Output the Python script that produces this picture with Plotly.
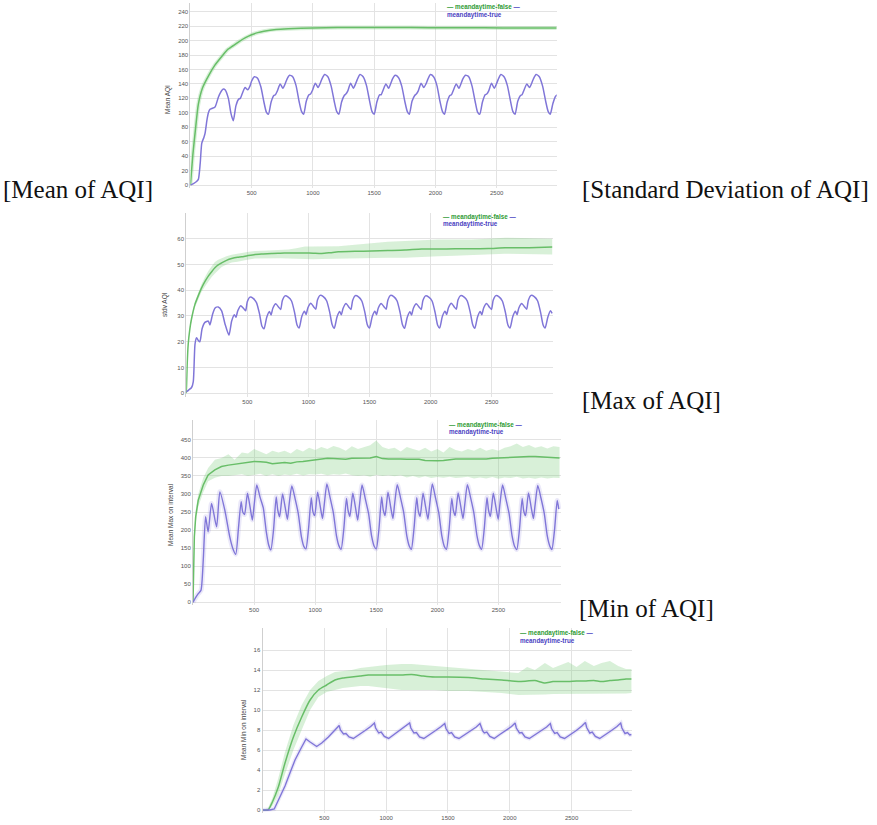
import plotly.graph_objects as go

W, H = 877, 825

# ------------------------------------------------------------------ data
# shared time knots of the daily cycle (blue series, panels 1-3)
XC = [350, 372, 394, 407, 422, 446, 468, 486, 500, 522, 548, 575, 600, 620,
      637, 659, 681, 694, 709, 733, 755, 773, 787, 809, 835, 862, 887, 907,
      924, 946, 968, 981, 996, 1020, 1042, 1060, 1074, 1096, 1122, 1149, 1174, 1194,
      1212, 1234, 1256, 1269, 1284, 1308, 1330, 1348, 1362, 1384, 1410, 1437, 1462, 1482,
      1500, 1522, 1544, 1557, 1572, 1596, 1618, 1636, 1650, 1672, 1698, 1725, 1750, 1770,
      1787, 1809, 1831, 1844, 1859, 1883, 1905, 1923, 1937, 1959, 1985, 2012, 2037, 2057,
      2074, 2096, 2118, 2131, 2146, 2170, 2192, 2210, 2224, 2246, 2272, 2299, 2324, 2344,
      2362, 2384, 2406, 2419, 2434, 2458, 2480, 2498, 2512, 2534, 2560, 2587, 2612, 2632,
      2650, 2672, 2694, 2707, 2722, 2746, 2768, 2786, 2800, 2822, 2848, 2875, 2900, 2920,
      2937, 2959, 2981, 2994]

# ---- Panel 1 : Mean AQI
G1_X = [0, 20, 40, 65, 100, 150, 200, 256, 300, 350, 392, 450, 500, 550, 600, 700,
        800, 1000, 1200, 1500, 1800, 2100, 2400, 2700, 2990]
G1_Y = [0, 42, 75, 112, 135, 152, 166, 178, 187, 193, 198, 204, 208, 211, 213, 215.5,
        216.5, 217.5, 218, 218, 218, 217.8, 217.6, 217.5, 217.5]
B1_XI = [0, 25, 50, 65, 80, 93, 110, 120, 135, 147, 160, 174, 201, 229, 256, 270, 283, 310, 330]
B1_YI = [0, 2, 5, 8, 30, 58, 66, 72, 90, 100, 105, 106, 108, 122, 131, 133, 132, 120, 100]
B1_YC = [89, 110, 119, 120, 126, 135, 132, 137, 144, 150, 148, 136, 115, 101,
         98, 115, 124, 125, 130, 140, 134, 140, 146, 152, 150, 138, 116, 102,
         98, 116, 125, 126, 131, 141, 135, 141, 147, 153, 150, 137, 116, 102,
         98, 115, 124, 126, 130, 141, 134, 140, 146, 153, 150, 138, 117, 102,
         98, 115, 125, 125, 131, 140, 134, 141, 147, 152, 149, 137, 116, 102,
         98, 116, 124, 126, 130, 141, 135, 140, 146, 153, 150, 138, 116, 102,
         98, 115, 124, 125, 131, 140, 134, 141, 147, 152, 150, 137, 116, 101,
         98, 115, 125, 126, 130, 141, 134, 140, 146, 153, 150, 138, 117, 102,
         98, 116, 124, 125, 131, 140, 135, 141, 147, 153, 150, 137, 116, 102,
         98, 113, 123, 125]

# ---- Panel 2 : stdv AQI
G2_X = [0, 3, 8, 16, 30, 44, 71, 100, 126, 155,
        181, 210, 235, 262, 290, 330, 372, 420, 454, 500,
        563, 630, 699, 770, 836, 900, 972, 1040, 1109, 1180,
        1245, 1380, 1518, 1650, 1791, 1927, 2064, 2200, 2337, 2473,
        2609, 2746, 2870, 2995]
G2_Y = [0, 3, 11, 18.8, 25, 29, 34.4, 38, 40.9, 43.5,
        45.5, 47.3, 48.7, 49.8, 50.6, 51.6, 52.3, 52.8, 53, 53.4,
        53.9, 54.1, 54.3, 54.4, 54.5, 54.5, 54.5, 54.4, 54.3, 54.6,
        54.9, 55.1, 55.2, 55.4, 55.6, 56, 56.0, 56.1, 56.1, 56.2,
        56.5, 56.5, 56.6, 56.8]
G2_UP = [0, 3.3, 11.5, 19.5, 25.8, 30, 35.5, 39.3, 42.4, 45.2,
         47.5, 49.4, 51, 51.8, 52.4, 53.2, 53.8, 54.3, 54.5, 54.8,
         55.2, 55.3, 55.5, 55.6, 55.8, 56.3, 57.0, 57.0, 57.0, 57.0,
         57.1, 57.7, 58.4, 58.8, 59.1, 59.4, 59.7, 59.7, 59.7, 60.0,
         60.4, 60.3, 60.2, 60.0]
G2_LO = [0, 2.7, 10.5, 18, 24.2, 28, 33.3, 36.7, 39.4, 41.5,
         43.5, 45.2, 46.5, 47.8, 49.0, 50, 50.8, 51.1, 51.3, 51.8,
         52.3, 52.4, 52.4, 52.4, 52.3, 52.2, 52.0, 52.0, 52.1, 52.2,
         52.3, 52.5, 52.6, 52.6, 52.6, 53.0, 53.2, 53.4, 53.6, 53.8,
         54.2, 54.1, 54.0, 53.9]
B2_XI = [0, 20, 44, 58, 72, 85, 99, 112, 130, 153, 181, 194, 215, 235, 262, 290, 317]
B2_YI = [0.5, 1.2, 2.2, 4.5, 19, 21.5, 20.5, 20, 25, 27.5, 28, 26.5, 30.5, 33, 33.5, 32, 27]
B2_YC = [22.5, 28, 30.5, 29.5, 32, 34, 33, 32, 35.5, 37.3, 36.8, 35.2, 30.8, 26,
         25, 29.5, 31.7, 30.4, 33, 34.7, 33.5, 32.5, 36, 37.8, 37.3, 35.8, 31.3, 26.5,
         25.3, 29.8, 31.8, 30.6, 33.2, 34.9, 33.6, 32.6, 36.2, 38, 37.5, 35.9, 31.5, 26.7,
         25.2, 29.6, 31.7, 30.5, 33, 34.8, 33.5, 32.5, 36, 37.9, 37.4, 35.8, 31.4, 26.6,
         25.3, 29.7, 31.8, 30.5, 33.1, 34.8, 33.6, 32.6, 36.1, 38, 37.5, 35.9, 31.4, 26.6,
         25.2, 29.5, 31.6, 30.4, 33, 34.7, 33.5, 32.5, 36, 37.8, 37.3, 35.8, 31.3, 26.5,
         25.3, 29.8, 31.8, 30.6, 33.2, 34.9, 33.6, 32.6, 36.2, 37.9, 37.4, 35.9, 31.5, 26.7,
         25.2, 29.6, 31.7, 30.5, 33.1, 34.8, 33.5, 32.5, 36.1, 37.9, 37.4, 35.8, 31.4, 26.6,
         25.3, 29.7, 31.8, 30.5, 33.1, 34.8, 33.6, 32.6, 36.1, 38, 37.5, 35.9, 31.4, 26.6,
         25.3, 29.5, 32, 31]

# ---- Panel 3 : Mean Max on interval
G3_X = [0, 5, 11, 22, 43, 84, 124, 179, 233, 290, 340,
        400, 450, 500, 550, 600, 650, 700, 750, 800, 850,
        900, 950, 1000, 1050, 1100, 1150, 1200, 1250, 1300, 1350,
        1400, 1450, 1500, 1550, 1600, 1650, 1700, 1750, 1800, 1850,
        1900, 1950, 2000, 2050, 2100, 2150, 2200, 2250, 2300, 2350,
        2400, 2450, 2500, 2550, 2600, 2650, 2700, 2750, 2800, 2850,
        2900, 2950, 3000]
G3_Y = [0, 100, 181, 237, 283, 325, 353, 367, 376, 380, 382,
        384, 386, 390, 389, 388, 384, 386, 387, 385, 389,
        390, 392, 395, 398, 399, 398, 397, 396, 399, 400,
        399, 400, 404, 398, 397, 398, 397, 396, 397, 396,
        393, 392, 392, 393, 396, 397, 397, 397, 398, 396,
        397, 399, 400, 401, 403, 404, 405, 404, 404, 403,
        402, 401, 400]
G3_UP = [0, 110, 200, 255, 300, 345, 372, 395, 400, 410, 395,
         415, 412, 425, 418, 410, 420, 415, 420, 412, 425,
         418, 428, 422, 430, 425, 433, 428, 420, 432, 425,
         430, 435, 448, 430, 425, 428, 418, 430, 425, 420,
         428, 418, 425, 415, 430, 422, 418, 425, 420, 428,
         420, 425, 420, 428, 432, 440, 430, 436, 428, 432,
         426, 432, 430]
G3_LO = [0, 90, 165, 220, 265, 305, 335, 345, 350, 350, 352,
         355, 350, 352, 356, 350, 355, 350, 354, 352, 356,
         351, 355, 354, 356, 352, 355, 353, 357, 352, 350,
         352, 348, 353, 350, 352, 349, 352, 346, 350, 345,
         349, 344, 347, 345, 348, 344, 346, 348, 343, 346,
         343, 347, 342, 346, 344, 348, 343, 345, 342, 346,
         343, 345, 344]
B3_XI = [0, 20, 43, 65, 84, 103, 124, 152, 193, 220, 260, 301, 325]
B3_YI = [0, 12, 24, 33, 117, 237, 195, 274, 209, 306, 256, 181, 150]
B3_YC = [133, 205, 279, 250, 243, 302, 262, 228, 268, 325, 292, 262, 195, 158,
         145, 200, 292, 255, 237, 300, 262, 230, 272, 322, 288, 245, 182, 155,
         148, 205, 290, 252, 240, 305, 265, 232, 270, 328, 290, 248, 185, 157,
         147, 202, 288, 255, 238, 302, 262, 228, 268, 325, 287, 246, 183, 156,
         148, 203, 292, 256, 240, 305, 264, 232, 272, 326, 290, 248, 184, 156,
         147, 205, 290, 253, 238, 302, 262, 230, 270, 328, 289, 247, 183, 155,
         147, 202, 288, 255, 240, 303, 265, 232, 270, 326, 290, 247, 185, 157,
         147, 204, 290, 255, 238, 302, 262, 230, 272, 325, 288, 246, 183, 155,
         146, 202, 288, 253, 240, 303, 263, 232, 270, 324, 289, 246, 183, 156,
         146, 200, 282, 258]

# ---- Panel 4 : Mean Min on interval
G4_X = [0, 45, 80, 128, 182, 250, 317, 385, 452, 519, 586, 650, 721, 790, 856,
        1000, 1125, 1206, 1300, 1395, 1500, 1664, 1800, 1934, 2069, 2140, 2203,
        2284, 2350, 2473, 2540, 2607, 2680, 2742, 2810, 2877, 2940, 2985]
G4_Y = [0, 0, 0.8, 2.3, 4.7, 7.3, 9.3, 11, 12, 12.5, 13, 13.2, 13.3, 13.4, 13.5,
        13.5, 13.5, 13.55, 13.4, 13.3, 13.3, 13.25, 13.1, 13.0, 12.85, 12.9, 12.95,
        12.7, 12.85, 12.85, 12.9, 12.9, 12.95, 12.85, 12.95, 13.0, 13.1, 13.1]
G4_UP = [0, 0.2, 1.2, 3.2, 5.8, 8.5, 10.5, 12.0, 12.9, 13.4, 13.8, 13.9, 14.0, 14.2, 14.3,
         14.5, 14.6, 14.6, 14.5, 14.4, 14.3, 14.1, 14.0, 13.8, 13.7, 14.3, 14.0,
         14.7, 14.2, 14.8, 14.3, 14.9, 14.4, 14.7, 14.9, 14.4, 14.1, 14.1]
G4_LO = [0, 0, 0.4, 1.5, 3.6, 6.0, 8.0, 10.0, 11.3, 11.8, 12.0, 12.2, 12.3, 12.4, 12.4,
         12.2, 12.0, 12.0, 12.0, 12.0, 11.9, 11.9, 11.8, 11.7, 11.5, 11.5, 11.5,
         11.55, 11.6, 11.6, 11.6, 11.6, 11.6, 11.6, 11.6, 11.6, 11.65, 11.7]
B4_X = [0, 60, 95, 128, 155, 182, 222, 263, 317, 340, 352, 385, 415, 438, 479, 533, 586,
        620, 630, 642, 655, 675, 700, 735, 780, 830, 875,
        905, 915, 927, 940, 960, 985, 1020, 1065, 1115, 1160,
        1190, 1200, 1212, 1225, 1245, 1270, 1305, 1350, 1400, 1445,
        1474, 1484, 1496, 1509, 1529, 1554, 1589, 1634, 1684, 1729,
        1759, 1769, 1781, 1794, 1814, 1839, 1874, 1919, 1969, 2014,
        2043, 2053, 2065, 2078, 2098, 2123, 2158, 2203, 2253, 2298,
        2328, 2338, 2350, 2363, 2383, 2408, 2443, 2488, 2538, 2583,
        2612, 2622, 2634, 2647, 2667, 2692, 2727, 2772, 2822, 2867,
        2897, 2907, 2919, 2932, 2952, 2970, 2985]
B4_Y = [0, 0, 0.1, 1.0, 1.7, 2.4, 3.7, 5.0, 6.3, 6.9, 7.1, 6.8, 6.5, 6.35, 6.7, 7.3, 8.0,
        8.45, 8.0, 7.75, 7.6, 7.65, 7.3, 7.15, 7.5, 7.95, 8.35,
        8.7, 8.2, 7.9, 7.7, 7.8, 7.35, 7.15, 7.55, 7.95, 8.35,
        8.7, 8.2, 7.9, 7.7, 7.75, 7.3, 7.15, 7.5, 7.95, 8.35,
        8.65, 8.15, 7.9, 7.65, 7.75, 7.3, 7.15, 7.5, 7.95, 8.3,
        8.65, 8.2, 7.9, 7.7, 7.8, 7.35, 7.15, 7.55, 7.95, 8.35,
        8.7, 8.2, 7.95, 7.7, 7.75, 7.3, 7.15, 7.5, 7.95, 8.3,
        8.65, 8.15, 7.9, 7.65, 7.75, 7.3, 7.15, 7.5, 7.95, 8.4,
        8.75, 8.25, 7.95, 7.7, 7.8, 7.35, 7.15, 7.5, 7.95, 8.35,
        8.7, 8.2, 7.9, 7.65, 7.75, 7.5, 7.55]

X_TICKS = [500, 1000, 1500, 2000, 2500]
Y1_TICKS = [0, 20, 40, 60, 80, 100, 120, 140, 160, 180, 200, 220, 240]
Y2_TICKS = [0, 10, 20, 30, 40, 50, 60]
Y3_TICKS = [0, 50, 100, 150, 200, 250, 300, 350, 400, 450]
Y4_TICKS = [0, 2, 4, 6, 8, 10, 12, 14, 16]

Y_TITLES = ["Mean AQI", "stdv AQI", "Mean Max on interval", "Mean Min on interval"]
CAPTIONS = ["[Mean of AQI]", "[Standard Deviation of AQI]", "[Max of AQI]", "[Min of AQI]"]
LEG_FALSE = "meandaytime-false"
LEG_TRUE = "meandaytime-true"

# ------------------------------------------------------------------ style
GREEN = "rgb(104,190,104)"
GREEN_BAND = "rgba(126,204,126,0.30)"
BLUE = "rgb(128,118,216)"
BLUE_GLOW = "rgba(128,118,216,0.16)"
LEG_GREEN = "#2f9b35"
LEG_BLUE = "#4b3fc2"
GRID = "#e3e3e3"
TICKFONT = dict(family="Liberation Sans", size=6, color="#555")

# panel geometry in pixels: (left, right, top, bottom), x range, y range
PANELS = [
    dict(px=(190.4, 556.7, 3, 188), xr=[0, 2990], yr=[-4, 252], yt=Y1_TICKS),
    dict(px=(186.2, 553.3, 213, 397), xr=[0, 3004], yr=[-1.5, 70], yt=Y2_TICKS),
    dict(px=(193.0, 561.0, 420, 605), xr=[0, 3012], yr=[-7.5, 505], yt=Y3_TICKS),
    dict(px=(262.5, 631.7, 628, 812.7), xr=[0, 2986], yr=[-0.27, 18.2], yt=Y4_TICKS),
]

fig = go.Figure()


def ax(i):
    return ("x" if i == 1 else f"x{i}"), ("y" if i == 1 else f"y{i}")


def band(i, x, up, lo):
    xa, ya = ax(i)
    fig.add_trace(go.Scatter(x=x, y=up, mode="lines", line=dict(width=0, color=GREEN_BAND),
                             xaxis=xa, yaxis=ya, showlegend=False, hoverinfo="skip"))
    fig.add_trace(go.Scatter(x=x, y=lo, mode="lines", line=dict(width=0, color=GREEN_BAND),
                             fill="tonexty", fillcolor=GREEN_BAND,
                             xaxis=xa, yaxis=ya, showlegend=False, hoverinfo="skip"))


def line(i, x, y, color, width, shape="spline", name=None):
    xa, ya = ax(i)
    fig.add_trace(go.Scatter(x=x, y=y, mode="lines",
                             line=dict(color=color, width=width, shape=shape,
                                       smoothing=0.6 if shape == "spline" else None),
                             xaxis=xa, yaxis=ya, showlegend=False, name=name))


# panel 1
line(1, G1_X, G1_Y, GREEN_BAND, 4)
line(1, G1_X, G1_Y, GREEN, 1.5, name=LEG_FALSE)
line(1, B1_XI + XC, B1_YI + B1_YC, BLUE, 1.5, name=LEG_TRUE)
# panel 2
band(2, G2_X, G2_UP, G2_LO)
line(2, G2_X, G2_Y, GREEN, 1.5, name=LEG_FALSE)
line(2, B2_XI + XC, B2_YI + B2_YC, BLUE, 1.5, name=LEG_TRUE)
# panel 3
band(3, G3_X, G3_UP, G3_LO)
line(3, G3_X, G3_Y, GREEN, 1.5, shape="linear", name=LEG_FALSE)
line(3, B3_XI + XC, B3_YI + B3_YC, BLUE_GLOW, 5)
line(3, B3_XI + XC, B3_YI + B3_YC, BLUE, 1.4, name=LEG_TRUE)
# panel 4
band(4, G4_X, G4_UP, G4_LO)
line(4, G4_X, G4_Y, GREEN, 1.5, name=LEG_FALSE)
line(4, B4_X, B4_Y, BLUE_GLOW, 4, shape="linear")
line(4, B4_X, B4_Y, BLUE, 1.4, shape="linear", name=LEG_TRUE)

layout = dict(width=W, height=H, margin=dict(l=0, r=0, t=0, b=0),
              paper_bgcolor="white", plot_bgcolor="white", showlegend=False)
annotations = []

LEG_POS = [(445, 7.5, 15), (441, 217, 224), (447, 425, 432), (518, 633, 641)]
YT_POS = [(168, 100), (165, 305), (170, 515), (243, 730)]

for i, p in enumerate(PANELS, 1):
    l, r, t, b = p["px"]
    xa, ya = ax(i)
    xkey = "xaxis" if i == 1 else f"xaxis{i}"
    ykey = "yaxis" if i == 1 else f"yaxis{i}"
    layout[xkey] = dict(domain=[l / W, r / W], range=p["xr"], anchor=ya,
                        tickvals=X_TICKS, showgrid=True, gridcolor=GRID, gridwidth=1,
                        zeroline=False, showline=False, ticks="", tickfont=TICKFONT)
    layout[ykey] = dict(domain=[1 - b / H, 1 - t / H], range=p["yr"], anchor=xa,
                        tickvals=p["yt"], showgrid=True, gridcolor=GRID, gridwidth=1,
                        zeroline=False, showline=True, linecolor="#cfcfcf", linewidth=1,
                        ticks="", tickfont=TICKFONT)
    lx, ly1, ly2 = LEG_POS[i - 1]
    annotations.append(dict(
        x=lx / W, y=1 - ly1 / H, xref="paper", yref="paper", xanchor="left", yanchor="middle",
        showarrow=False, font=dict(family="Liberation Sans", size=6.3),
        text=(f"<b><span style='color:{LEG_GREEN}'>\u2014 {LEG_FALSE}</span> "
              f"<span style='color:{LEG_BLUE}'>\u2014</span></b>")))
    annotations.append(dict(
        x=lx / W, y=1 - ly2 / H, xref="paper", yref="paper", xanchor="left", yanchor="middle",
        showarrow=False, font=dict(family="Liberation Sans", size=6.3, color=LEG_BLUE),
        text=f"<b>{LEG_TRUE}</b>"))
    tx, ty = YT_POS[i - 1]
    annotations.append(dict(
        x=tx / W, y=1 - ty / H, xref="paper", yref="paper", xanchor="center", yanchor="middle",
        showarrow=False, textangle=-90, font=dict(family="Liberation Sans", size=6.5, color="#444"),
        text=Y_TITLES[i - 1]))

CAP_POS = [(78, 189), (725, 189), (651, 400), (646, 608)]
for (cx, cy), txt in zip(CAP_POS, CAPTIONS):
    annotations.append(dict(
        x=cx / W, y=1 - cy / H, xref="paper", yref="paper", xanchor="center", yanchor="middle",
        showarrow=False, font=dict(family="Liberation Serif", size=25, color="#111"), text=txt))

layout["annotations"] = annotations
fig.update_layout(**layout)
fig.write_html("out.html")
